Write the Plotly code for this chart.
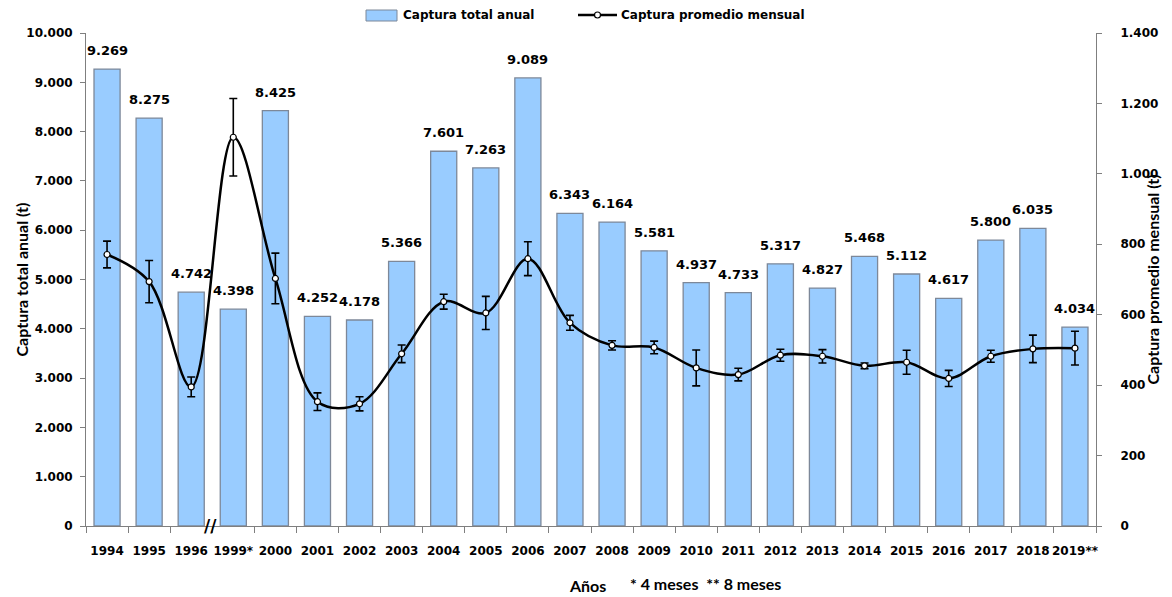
import plotly.graph_objects as go

years = ["1994", "1995", "1996", "1999*", "2000", "2001", "2002", "2003", "2004", "2005",
         "2006", "2007", "2008", "2009", "2010", "2011", "2012", "2013", "2014", "2015",
         "2016", "2017", "2018", "2019**"]
total_anual = [9269, 8275, 4742, 4398, 8425, 4252, 4178, 5366, 7601, 7263,
               9089, 6343, 6164, 5581, 4937, 4733, 5317, 4827, 5468, 5112,
               4617, 5800, 6035, 4034]
promedio_mensual = [771, 694, 395, 1104, 703, 353, 347, 489, 637, 605,
                    759, 577, 513, 507, 449, 430, 485, 482, 455, 465,
                    419, 482, 503, 505]
error_mensual = [38, 60, 28, 110, 72, 25, 20, 25, 21, 47,
                 48, 21, 13, 18, 51, 18, 17, 19, 8, 34,
                 23, 17, 39, 48]

FONT = "DejaVu Sans"
TFONT = "Lato"
AXC = "#7f7f7f"
BAR_FILL = "#99CCFF"
BAR_LINE = "#7D8899"

# the page body adds an 8px offset; figure is sized so the plot lands where the reference has it
OFF = 8
W, H = 1172 - OFF, 597 - OFF
L, T = 86 - OFF, 33 - OFF
R = W - (1096 - OFF)
B = H - (526 - OFF)
PW, PH = W - L - R, H - T - B

def px(x):  # page pixel x -> paper
    return (x - OFF - L) / PW

def py(y):  # page pixel y -> paper
    return (H - B - (y - OFF)) / PH

def fmt(v):
    return f"{v:,}".replace(",", ".")

fig = go.Figure()
fig.add_trace(go.Bar(
    x=years, y=total_anual, name="Captura total anual",
    marker=dict(color=BAR_FILL, line=dict(color=BAR_LINE, width=1.3)),
    width=0.62,
))
fig.add_trace(go.Scatter(
    x=years, y=promedio_mensual, name="Captura promedio mensual", yaxis="y2",
    mode="lines+markers",
    line=dict(color="black", width=2.5, shape="spline", smoothing=1.0),
    marker=dict(symbol="circle", size=6, color="white", line=dict(color="black", width=1.2)),
    error_y=dict(type="data", array=error_mensual, color="black", thickness=1.6, width=4),
))

annotations = []
for i, v in enumerate(total_anual):
    annotations.append(dict(
        x=i, y=v, xref="x", yref="y", text=f"<b>{fmt(v)}</b>", showarrow=False,
        xanchor="center", yanchor="bottom", yshift=9,
        font=dict(family=FONT, size=13, color="black")))

annotations += [
    dict(text="<b>Captura total anual (t)</b>", xref="paper", yref="paper",
         x=px(21), y=0.5, textangle=-90, showarrow=False, xanchor="center", yanchor="middle",
         font=dict(family=TFONT, size=16, color="black")),
    dict(text="<b>Captura promedio mensual (t)</b>", xref="paper", yref="paper",
         x=px(1152), y=0.5, textangle=-90, showarrow=False, xanchor="center", yanchor="middle",
         font=dict(family=TFONT, size=16, color="black")),
    dict(text="<b>Años</b>", xref="paper", yref="paper", x=px(587), y=py(596),
         xanchor="center", yanchor="bottom", showarrow=False, borderpad=0,
         font=dict(family=TFONT, size=16, color="black")),
    dict(text="<b>* 4 meses  ** 8 meses</b>", xref="paper", yref="paper", x=px(629), y=py(594),
         xanchor="left", yanchor="bottom", showarrow=False, borderpad=0,
         font=dict(family=TFONT, size=16, color="black")),
    dict(text="<b>//</b>", xref="x", yref="paper", x=2.45, y=0.0,
         xanchor="center", yanchor="middle", showarrow=False,
         font=dict(family=FONT, size=17, color="black")),
    # legend texts
    dict(text="<b>Captura total anual</b>", xref="paper", yref="paper", x=px(401), y=py(15),
         xanchor="left", yanchor="middle", showarrow=False,
         font=dict(family=FONT, size=12, color="black")),
    dict(text="<b>Captura promedio mensual</b>", xref="paper", yref="paper", x=px(619), y=py(15),
         xanchor="left", yanchor="middle", showarrow=False,
         font=dict(family=FONT, size=12, color="black")),
]

shapes = [
    dict(type="rect", xref="paper", yref="paper", x0=px(366), x1=px(397), y0=py(21), y1=py(10),
         fillcolor=BAR_FILL, line=dict(color=BAR_LINE, width=1)),
    dict(type="line", xref="paper", yref="paper", x0=px(578), x1=px(617), y0=py(15), y1=py(15),
         line=dict(color="black", width=2.5)),
    dict(type="circle", xref="paper", yref="paper", x0=px(594.5), x1=px(600.5), y0=py(18), y1=py(12),
         fillcolor="white", line=dict(color="black", width=1.2)),
]

fig.update_layout(
    width=W, height=H,
    margin=dict(l=L, r=R, t=T, b=B),
    paper_bgcolor="white", plot_bgcolor="white",
    separators=",.",
    font=dict(family=FONT, size=12, color="black"),
    showlegend=False,
    xaxis=dict(
        type="category", range=[-0.5, len(years) - 0.5], tickson="boundaries",
        ticks="outside", ticklen=6, tickangle=0,
        tickcolor=AXC, showline=True, linecolor=AXC, linewidth=1, automargin=False,
        ticklabelstandoff=14,
        tickfont=dict(family=FONT, size=12, color="black"), showgrid=False,
        tickprefix="<b>", ticksuffix="</b>",
    ),
    yaxis=dict(
        range=[0, 10000], dtick=1000, tickformat=",d", ticks="outside", ticklen=5,
        tickcolor=AXC, showline=True, linecolor=AXC, linewidth=1, showgrid=False,
        zeroline=False, automargin=False, ticklabelstandoff=5,
        tickfont=dict(family=FONT, size=12, color="black"),
        tickprefix="<b>", ticksuffix="</b>",
    ),
    yaxis2=dict(
        range=[0, 1400], dtick=200, tickformat=",d", overlaying="y", side="right",
        ticks="outside", ticklen=5, tickcolor=AXC, showline=True, linecolor=AXC,
        linewidth=1, showgrid=False, zeroline=False, automargin=False, ticklabelstandoff=16,
        tickfont=dict(family=FONT, size=12, color="black"),
        tickprefix="<b>", ticksuffix="</b>",
    ),
    annotations=annotations,
    shapes=shapes,
)
fig.write_html("out.html")
